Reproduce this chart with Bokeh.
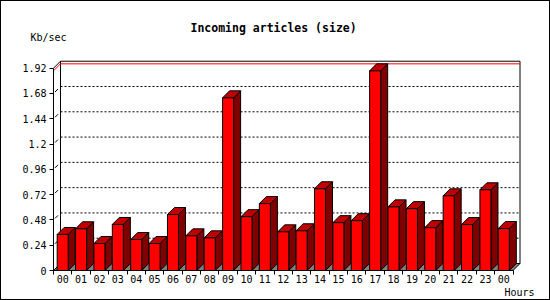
from bokeh.plotting import figure
from bokeh.models import Range1d, FixedTicker, Label, ColumnDataSource
from bokeh.layouts import column
from bokeh.embed import file_html
from bokeh.resources import INLINE

# ---- data ----
hours = ["00", "01", "02", "03", "04", "05", "06", "07", "08", "09", "10", "11",
         "12", "13", "14", "15", "16", "17", "18", "19", "20", "21", "22", "23", "00"]
kbps = [0.342, 0.396, 0.256, 0.437, 0.294, 0.256, 0.531, 0.329, 0.310, 1.639,
        0.511, 0.635, 0.367, 0.377, 0.776, 0.454, 0.473, 1.895, 0.604, 0.587,
        0.407, 0.709, 0.436, 0.766, 0.398]
y_ticks = [0, 0.24, 0.48, 0.72, 0.96, 1.2, 1.44, 1.68, 1.92]
y_tick_labels = ["0", "0.24", "0.48", "0.72", "0.96", "1.2", "1.44", "1.68", "1.92"]
title_text = "Incoming articles (size)"
y_unit = "Kb/sec"
x_unit = "Hours"

# ---- layout (figure sits inside a 1px border; canvas px = figure px + 1) ----
W, H = 548, 298
AX_X = 52        # figure px of front y axis
AX_Y = 269       # figure px of baseline
SLOT = 18.38     # px per hour slot
PPU = 105.36     # px per Kb/sec
DEPTH = 7.0      # px 3D depth
FONT = "DejaVu Sans Mono"

n = len(kbps)
dx = DEPTH / SLOT
dy = DEPTH / PPU
ytop = y_ticks[-1]
vmax = max(kbps)


def px2x(cx):
    return (cx - 1 - AX_X) / SLOT


def py2y(cy):
    return (AX_Y + 1 - cy) / PPU


p = figure(width=W, height=H,
           x_range=Range1d(-AX_X / SLOT, (W - AX_X) / SLOT),
           y_range=Range1d(-(H - AX_Y) / PPU, AX_Y / PPU),
           output_backend="svg", toolbar_location=None, min_border=0)
p.outline_line_color = None
p.background_fill_color = "white"
p.border_fill_color = "white"
p.xgrid.visible = False
p.ygrid.visible = False

# floor
p.patch([0, n, n + dx, dx], [0, 0, dy, dy], fill_color="#808080",
        line_color="black", line_width=1)

# back plane
p.multi_line(xs=[[dx, dx, n + dx, n + dx], [0, dx]],
             ys=[[dy, ytop + dy, ytop + dy, dy], [ytop, ytop + dy]],
             line_color="black", line_width=1)

# grid lines on back plane
gy = [t + dy for t in y_ticks[1:-1]]
p.segment(x0=[dx] * len(gy), y0=gy, x1=[n + dx] * len(gy), y1=gy,
          line_color="black", line_width=1, line_dash="2 2")

# small depth marks on the axis
p.segment(x0=[1.5 / SLOT] * len(gy), y0=[t + 1.5 / PPU for t in y_ticks[1:-1]],
          x1=[4.5 / SLOT] * len(gy), y1=[t + 4.5 / PPU for t in y_ticks[1:-1]],
          line_color="black", line_width=1)

# max line
p.line([0, dx, n + dx], [vmax, vmax + dy, vmax + dy], line_color="red", line_width=1)

# bars
lefts = [i + 0.2 for i in range(n)]
rights = [i + 0.8 for i in range(n)]
side_xs = [[r, r + dx, r + dx, r] for r in rights]
side_ys = [[0, dy, v + dy, v] for v in kbps]
top_xs = [[l, l + dx, r + dx, r] for l, r in zip(lefts, rights)]
top_ys = [[v, v + dy, v + dy, v] for v in kbps]

p.patches(xs=side_xs, ys=side_ys, fill_color="#800000", line_color="black", line_width=1)
p.patches(xs=top_xs, ys=top_ys, fill_color="#C00000", line_color="black", line_width=1)
src = ColumnDataSource(dict(left=lefts, right=rights, top=kbps, bottom=[0] * n))
p.quad(left="left", right="right", top="top", bottom="bottom", source=src,
       fill_color="#FF0000", line_color="black", line_width=1)

# axes (fixed at the data origin)
ya = p.yaxis[0]
ya.fixed_location = 0
ya.ticker = FixedTicker(ticks=y_ticks)
ya.major_label_overrides = {t: s for t, s in zip(y_ticks, y_tick_labels)}
ya.bounds = (0, ytop)
ya.major_tick_in = 0
ya.major_tick_out = 4
ya.minor_tick_line_color = None
ya.major_label_standoff = 3
ya.major_label_text_font = FONT
ya.major_label_text_font_size = "10px"
ya.major_label_text_color = "black"
ya.axis_line_color = "black"
ya.major_tick_line_color = "black"

xa = p.xaxis[0]
xa.fixed_location = 0
centers = [i + 0.5 for i in range(n)]
xa.ticker = FixedTicker(ticks=centers, minor_ticks=list(range(n + 1)))
xa.major_label_overrides = {c: h for c, h in zip(centers, hours)}
xa.bounds = (0, n)
xa.major_tick_line_color = None
xa.major_tick_in = 0
xa.major_tick_out = 1
xa.minor_tick_in = 0
xa.minor_tick_out = 4
xa.minor_tick_line_color = "black"
xa.major_label_standoff = 0
xa.major_label_text_font = FONT
xa.major_label_text_font_size = "10px"
xa.major_label_text_color = "black"
xa.axis_line_color = "black"

# texts
p.add_layout(Label(x=px2x(190), y=py2y(27), text=title_text, text_font=FONT,
                   text_font_size="11.5px", text_font_style="bold",
                   text_align="left", text_baseline="middle", text_color="black"))
p.add_layout(Label(x=px2x(30), y=py2y(37), text=y_unit, text_font=FONT,
                   text_font_size="10px", text_align="left", text_baseline="middle",
                   text_color="black"))
p.add_layout(Label(x=px2x(504), y=py2y(292), text=x_unit, text_font=FONT,
                   text_font_size="10px", text_align="left", text_baseline="middle",
                   text_color="black"))

root = column(p)
root.styles = {"border": "1px solid black"}

open("out.html", "w").write(file_html(root, INLINE))
